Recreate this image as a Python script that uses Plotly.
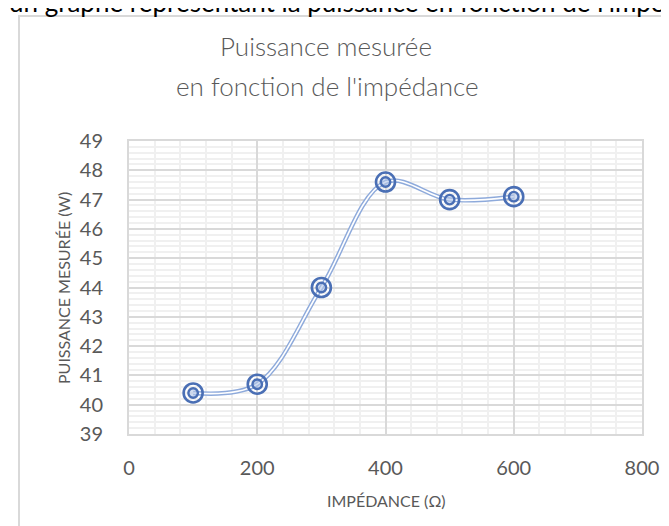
import plotly.graph_objects as go

impedance = [100, 200, 300, 400, 500, 600]
puissance = [40.4, 40.7, 44.0, 47.6, 47.0, 47.1]
x_ticks = [0, 200, 400, 600, 800]
y_ticks = [39, 40, 41, 42, 43, 44, 45, 46, 47, 48, 49]

title_l1 = "Puissance mesurée"
title_l2 = "en fonction de l'impédance"
x_title = "IMPÉDANCE (Ω)"
y_title = "PUISSANCE MESURÉE (W)"
top_text = "un graphe représentant la puissance en fonction de l'impédance"

W_FIG, H_FIG = 669, 526
L, R, T, B = 121, 35, 133, 100
PW = W_FIG - L - R
PH = H_FIG - T - B


def px_x(px):
    return (px - L) / PW


def px_y(py):
    return (H_FIG - B - py) / PH


FONT = "Lato, 'Open Sans', sans-serif"
GREY = "#595959"

fig = go.Figure()
# double line effect
fig.add_trace(go.Scatter(x=impedance, y=puissance, mode="lines",
                         line=dict(shape="spline", smoothing=1.0, color="#8eaadb", width=4.5),
                         hoverinfo="skip", showlegend=False))
fig.add_trace(go.Scatter(x=impedance, y=puissance, mode="lines",
                         line=dict(shape="spline", smoothing=1.0, color="white", width=1.6),
                         hoverinfo="skip", showlegend=False))
# double-ring markers
fig.add_trace(go.Scatter(x=impedance, y=puissance, mode="markers",
                         marker=dict(symbol="circle", size=19, color="rgba(255,255,255,0)",
                                     line=dict(color="#4a6fb5", width=2.6)),
                         showlegend=False))
fig.add_trace(go.Scatter(x=impedance, y=puissance, mode="markers",
                         marker=dict(symbol="circle", size=9.5, color="rgba(180,198,231,0.6)",
                                     line=dict(color="#4a6fb5", width=2.4)),
                         showlegend=False))

fig.update_xaxes(range=[0, 800], tickvals=x_ticks, showline=True, linecolor="#d9d9d9", linewidth=2,
                 mirror=True, showgrid=True, gridcolor="#d9d9d9", gridwidth=1.5, zeroline=False,
                 minor=dict(dtick=40, showgrid=True, gridcolor="#f0f0f0", gridwidth=2),
                 tickfont=dict(family=FONT, size=20, color=GREY), ticks="",
                 ticklabelstandoff=15)
fig.update_yaxes(range=[39, 49], tickvals=y_ticks, showline=True, linecolor="#d9d9d9", linewidth=2,
                 mirror=True, showgrid=True, gridcolor="#d9d9d9", gridwidth=1.5, zeroline=False,
                 minor=dict(dtick=0.2, showgrid=True, gridcolor="#f0f0f0", gridwidth=2),
                 tickfont=dict(family=FONT, size=20, color=GREY), ticks="",
                 ticklabelstandoff=20)

ann = [
    dict(text=title_l1, x=px_x(318), y=px_y(38), xref="paper", yref="paper",
         xanchor="center", yanchor="middle", showarrow=False,
         font=dict(family=FONT, size=26, color=GREY, weight=300)),
    dict(text=title_l2, x=px_x(319), y=px_y(78), xref="paper", yref="paper",
         xanchor="center", yanchor="middle", showarrow=False,
         font=dict(family=FONT, size=26, color=GREY, weight=300)),
    dict(text=x_title, x=px_x(378), y=px_y(492), xref="paper", yref="paper",
         xanchor="center", yanchor="middle", showarrow=False,
         font=dict(family=FONT, size=16, color=GREY)),
    dict(text=y_title, x=px_x(55), y=px_y(280), xref="paper", yref="paper",
         xanchor="center", yanchor="middle", showarrow=False, textangle=-90,
         font=dict(family=FONT, size=16, color=GREY)),
    dict(text=top_text, x=px_x(-1), y=px_y(-6), xref="paper", yref="paper",
         xanchor="left", yanchor="middle", showarrow=False,
         font=dict(family=FONT, size=26, color="black")),
]

fig.update_layout(
    width=W_FIG, height=H_FIG,
    margin=dict(l=L, r=R, t=T, b=B, pad=0),
    paper_bgcolor="white", plot_bgcolor="white",
    annotations=ann,
    shapes=[dict(type="rect", xref="paper", yref="paper",
                 x0=px_x(11), x1=px_x(700), y0=px_y(560), y1=px_y(8),
                 line=dict(color="#d9d9d9", width=2), layer="below")],
)

fig.write_html("out.html")
